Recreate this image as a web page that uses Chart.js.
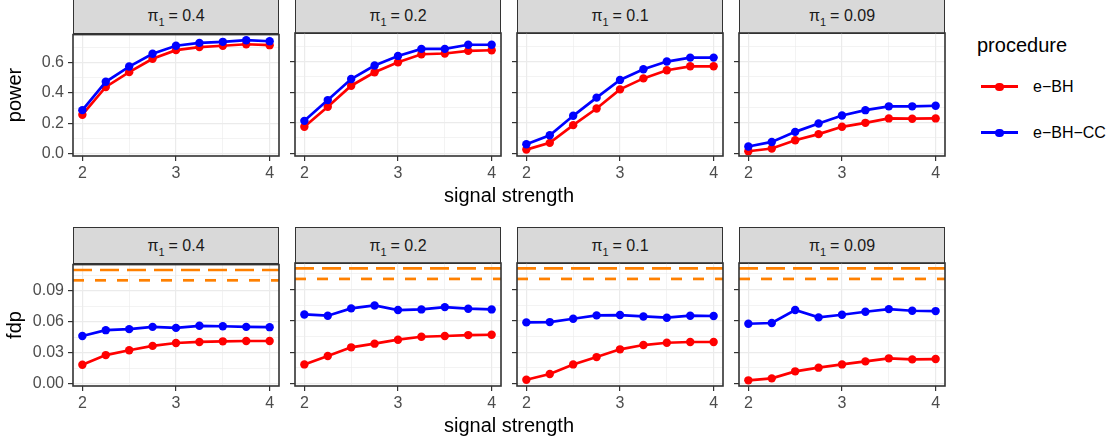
<!DOCTYPE html>
<html>
<head>
<meta charset="utf-8">
<script src="https://cdn.jsdelivr.net/npm/chart.js@4.4.1/dist/chart.umd.min.js"></script>
<style>
  body { margin: 0; background: #fff; font-family: "Liberation Sans", Arial, sans-serif; }
  #wrap { position: relative; width: 1113px; height: 441px; overflow: hidden; }
  canvas { position: absolute; }
  .strip { position: absolute; box-sizing: border-box; background: #D9D9D9; border: 1.6px solid #333333;
           display: flex; align-items: center; justify-content: center; font-size: 16px; color: #1A1A1A; }
  .strip sub { font-size: 11px; vertical-align: -5px; line-height: 0; margin-right: 4px; }
  .txt { position: absolute; white-space: nowrap; color: #000; }
</style>
</head>
<body>
<div id="wrap"></div>
<script>
// donnees
const signal = [2, 2.25, 2.5, 2.75, 3, 3.25, 3.5, 3.75, 4];
const pis = ['0.4', '0.2', '0.1', '0.09'];

const powerEBH = [
  [0.256, 0.44, 0.538, 0.627, 0.684, 0.704, 0.713, 0.723, 0.717],
  [0.173, 0.304, 0.442, 0.53, 0.596, 0.648, 0.653, 0.67, 0.674],
  [0.024, 0.068, 0.184, 0.293, 0.418, 0.49, 0.543, 0.569, 0.569],
  [0.013, 0.031, 0.085, 0.125, 0.173, 0.199, 0.228, 0.226, 0.228]
];
const powerEBHCC = [
  [0.286, 0.474, 0.575, 0.66, 0.713, 0.732, 0.739, 0.75, 0.743],
  [0.212, 0.348, 0.486, 0.574, 0.637, 0.683, 0.683, 0.71, 0.71],
  [0.059, 0.118, 0.245, 0.364, 0.48, 0.55, 0.6, 0.626, 0.626],
  [0.044, 0.074, 0.14, 0.195, 0.247, 0.282, 0.307, 0.307, 0.311]
];
const fdpEBH = [
  [0.0184, 0.0277, 0.0324, 0.0366, 0.0394, 0.0404, 0.041, 0.0413, 0.0413],
  [0.0184, 0.0264, 0.0347, 0.0382, 0.042, 0.0448, 0.0455, 0.0464, 0.0467],
  [0.0038, 0.0092, 0.0184, 0.0254, 0.0328, 0.0369, 0.0391, 0.0398, 0.0398],
  [0.0032, 0.0051, 0.0118, 0.0153, 0.0184, 0.0213, 0.0242, 0.0232, 0.0235]
];
const fdpEBHCC = [
  [0.0461, 0.0518, 0.0528, 0.055, 0.054, 0.056, 0.0556, 0.055, 0.0547],
  [0.0661, 0.0649, 0.0719, 0.0747, 0.0703, 0.0709, 0.0731, 0.0716, 0.0709],
  [0.0585, 0.0588, 0.062, 0.0652, 0.0655, 0.0642, 0.063, 0.0649, 0.0646],
  [0.0572, 0.0579, 0.0703, 0.0633, 0.0658, 0.0687, 0.0712, 0.0696, 0.0693]
];
const fdpLevels = [0.11, 0.1];

const xTicks = [2, 3, 4];
const xMinor = [2.5, 3.5];
const powerTicks = [0, 0.2, 0.4, 0.6];
const powerMinor = [0.1, 0.3, 0.5, 0.7];
const fdpTicks = [0, 0.03, 0.06, 0.09];
const fdpMinor = [0.015, 0.045, 0.075, 0.105];

const procedures = ['e\u2212BH', 'e\u2212BH\u2212CC'];
const colors = ['#FF0000', '#0000FF'];
const orange = '#FF8000';

// geometrie (en px)
const panelW = 206, panelH = 123, colStep = 222;
const panelLeft0 = 73;
const rowTops = [33, 263];
const stripH = 36;
const padL = 70, padT = 12, padR = 16, padB = 34;

const wrap = document.getElementById('wrap');
const font = '"Liberation Sans", Arial, sans-serif';

const borderPlugin = {
  id: 'panelBorder',
  afterDraw(chart) {
    const a = chart.chartArea, ctx = chart.ctx;
    ctx.save();
    ctx.strokeStyle = '#333333';
    ctx.lineWidth = 1.6;
    ctx.strokeRect(a.left, a.top, a.right - a.left, a.bottom - a.top);
    ctx.restore();
  }
};

function setTicks(major, minor) {
  return (scale) => {
    scale.ticks = major.concat(minor).sort((a, b) => a - b).map(v => ({ value: v }));
  };
}
function isMajor(major, v) {
  return major.some(m => Math.abs(m - v) < 1e-9);
}

function makePanel(row, col) {
  const left = panelLeft0 + col * colStep;
  const top = rowTops[row];
  const isPower = row === 0;
  const yMajor = isPower ? powerTicks : fdpTicks;
  const yMinor = isPower ? powerMinor : fdpMinor;
  const yMin = isPower ? -0.018 : -0.0022;
  const yMax = isPower ? 0.787 : 0.1152;
  const xMin = 1.9, xMax = 4.1;

  const strip = document.createElement('div');
  strip.className = 'strip';
  strip.style.left = left + 'px';
  strip.style.top = (top - stripH) + 'px';
  strip.style.width = panelW + 'px';
  strip.style.height = (stripH + 1) + 'px';
  strip.innerHTML = '<span>\u03C0<sub>1</sub>= ' + pis[col] + '</span>';
  wrap.appendChild(strip);

  const cv = document.createElement('canvas');
  const w = padL + panelW + padR, h = padT + panelH + padB;
  cv.width = w; cv.height = h;
  cv.style.width = w + 'px'; cv.style.height = h + 'px';
  cv.style.left = (left - padL) + 'px';
  cv.style.top = (top - padT) + 'px';
  wrap.appendChild(cv);

  const datasets = [];
  const series = isPower ? [powerEBH, powerEBHCC] : [fdpEBH, fdpEBHCC];
  series.forEach((s, k) => {
    datasets.push({
      label: procedures[k],
      data: signal.map((x, i) => ({ x: x, y: s[col][i] })),
      borderColor: colors[k],
      backgroundColor: colors[k],
      pointBackgroundColor: colors[k],
      pointBorderWidth: 0,
      pointRadius: 4.2,
      borderWidth: 2.7,
      tension: 0,
      order: 2 - k
    });
  });
  if (!isPower) {
    fdpLevels.forEach((lv, k) => {
      datasets.push({
        data: [{ x: xMin, y: lv }, { x: xMax, y: lv }],
        borderColor: orange,
        borderWidth: 2.7,
        borderDash: k === 0 ? [19, 8] : [11, 11],
        pointRadius: 0,
        order: 5
      });
    });
  }

  new Chart(cv, {
    type: 'line',
    data: { datasets: datasets },
    plugins: [borderPlugin],
    options: {
      responsive: false,
      animation: false,
      events: [],
      layout: { padding: { left: 0, top: padT, right: padR, bottom: 0 } },
      plugins: { legend: { display: false }, tooltip: { enabled: false } },
      scales: {
        x: {
          type: 'linear', min: xMin, max: xMax,
          afterBuildTicks: setTicks(xTicks, xMinor),
          afterFit: (s) => { s.height = padB; },
          border: { display: false },
          grid: {
            color: '#EBEBEB',
            lineWidth: (c) => isMajor(xTicks, c.tick.value) ? 1.2 : 0.6,
            tickColor: (c) => isMajor(xTicks, c.tick.value) ? '#333333' : 'rgba(0,0,0,0)',
            tickWidth: 1.2,
            tickLength: 5
          },
          ticks: {
            autoSkip: false, maxRotation: 0, padding: 3,
            color: '#4D4D4D', font: { family: font, size: 16 },
            callback: (v) => isMajor(xTicks, v) ? String(v) : ''
          }
        },
        y: {
          type: 'linear', min: yMin, max: yMax,
          afterBuildTicks: setTicks(yMajor, yMinor),
          afterFit: (s) => { s.width = padL; },
          border: { display: false },
          grid: {
            color: '#EBEBEB',
            lineWidth: (c) => isMajor(yMajor, c.tick.value) ? 1.2 : 0.6,
            tickColor: (c) => isMajor(yMajor, c.tick.value) ? '#333333' : 'rgba(0,0,0,0)',
            tickWidth: 1.2,
            tickLength: 5
          },
          ticks: {
            display: col === 0,
            autoSkip: false, padding: 4,
            color: '#4D4D4D', font: { family: font, size: 16 },
            callback: (v) => isMajor(yMajor, v) ? v.toFixed(isPower ? 1 : 2) : ''
          }
        }
      }
    }
  });
}

for (let r = 0; r < 2; r++) {
  for (let c = 0; c < 4; c++) makePanel(r, c);
}

function addText(html, css) {
  const d = document.createElement('div');
  d.className = 'txt';
  d.innerHTML = html;
  Object.assign(d.style, css);
  wrap.appendChild(d);
  return d;
}

// titres des axes
const plotCenterX = (panelLeft0 + 3 * colStep + panelW + panelLeft0) / 2;
[0, 1].forEach(r => {
  addText('signal strength', {
    left: plotCenterX + 'px', top: (rowTops[r] + 152) + 'px',
    fontSize: '20px', lineHeight: '20px', transform: 'translateX(-50%)'
  });
  addText(r === 0 ? 'power' : 'fdp', {
    left: '14px', top: (rowTops[r] + panelH / 2) + 'px',
    fontSize: '20px', lineHeight: '20px',
    transform: 'translate(-50%, -50%) rotate(-90deg)'
  });
});

// legende
addText('procedure', { left: '977px', top: '35px', fontSize: '20px', lineHeight: '20px' });
const keyY = [86.7, 132.7];
procedures.forEach((p, k) => {
  addText('', {
    left: '981px', top: (keyY[k] - 1.35) + 'px', width: '37px', height: '2.7px', background: colors[k]
  });
  addText('', {
    left: (999.5 - 4.2) + 'px', top: (keyY[k] - 4.2) + 'px', width: '8.4px', height: '8.4px',
    borderRadius: '50%', background: colors[k]
  });
  addText(p, { left: '1033px', top: (keyY[k] - 8) + 'px', fontSize: '16px', lineHeight: '16px' });
});
</script>
</body>
</html>
